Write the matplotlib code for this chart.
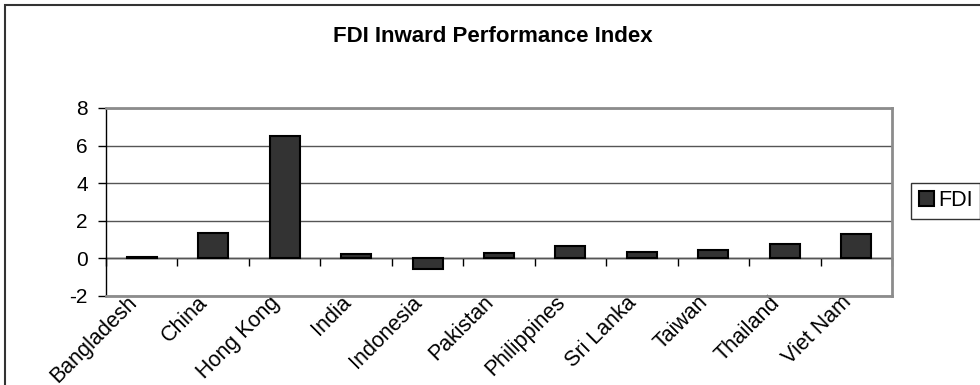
import numpy as np
import matplotlib
matplotlib.use('Agg')
from matplotlib import pyplot as plt
from matplotlib.patches import Rectangle
from matplotlib.transforms import ScaledTranslation

countries = ['Bangladesh', 'China', 'Hong Kong', 'India', 'Indonesia', 'Pakistan',
             'Philippines', 'Sri Lanka', 'Taiwan', 'Thailand', 'Viet Nam']
fdi = [0.08, 1.34, 6.49, 0.23, -0.55, 0.30, 0.64, 0.33, 0.44, 0.78, 1.31]
yticks = [-2, 0, 2, 4, 6, 8]

plt.rcParams['font.family'] = ['Liberation Sans', 'DejaVu Sans']
plt.rcParams['axes.unicode_minus'] = False

fig = plt.figure(figsize=(9.8, 3.85), dpi=100)
ax = fig.add_axes([0.1082, 0.2312, 0.8020, 0.4883])

x = np.arange(len(countries))
ax.bar(x, fdi, width=0.42, color='#333333', edgecolor='black', linewidth=1.5,
       label='FDI', zorder=3)

ax.set_xlim(-0.5, len(countries) - 0.5)
ax.set_ylim(yticks[0], yticks[-1])
ax.set_yticks(yticks)
ax.grid(axis='y', color='#555555', linewidth=1)
ax.set_axisbelow(True)

# category names sit under the plot area, tick marks sit on the zero line
ax.set_xticks(x, countries, rotation=45, ha='right', va='center',
              rotation_mode='anchor', fontsize=15.5)
ax.tick_params(axis='x', length=0, pad=2.5)
shift = ScaledTranslation(-6 / 72, 0, fig.dpi_scale_trans)
for lbl in ax.get_xticklabels():
    lbl.set_transform(lbl.get_transform() + shift)
ax.tick_params(axis='y', direction='out', length=6, width=1, labelsize=15, pad=7)

ax.spines['left'].set_color('black')
ax.spines['left'].set_linewidth(1)
for side in ['top', 'right', 'bottom']:
    ax.spines[side].set_color('#8c8c8c')
    ax.spines[side].set_linewidth(2)

zero = ax.secondary_xaxis(0, transform=ax.transData)
zero.set_xticks(np.arange(-0.5, len(countries), 1.0))
zero.tick_params(axis='x', direction='out', length=6, width=1, labelbottom=False)
zero.spines['bottom'].set_color('black')
zero.spines['bottom'].set_linewidth(1)

fig.text(0.5026, 0.904, 'FDI Inward Performance Index', ha='center', va='center',
         fontsize=16, fontweight='bold')

leg = fig.legend(loc='center left', bbox_to_anchor=(0.930, 0.478), fontsize=15.5,
                 frameon=True, fancybox=False, handlelength=0.7, handleheight=0.7,
                 handletextpad=0.2, borderpad=0.35, borderaxespad=0)
leg.get_frame().set_edgecolor('black')
leg.get_frame().set_linewidth(1)

# chart border
fig.patches.append(Rectangle((0.0051, -0.1), 1.2, 1.087, transform=fig.transFigure,
                             fill=False, edgecolor='#333333', linewidth=1.5))

fig.savefig('out.png', dpi=100)
